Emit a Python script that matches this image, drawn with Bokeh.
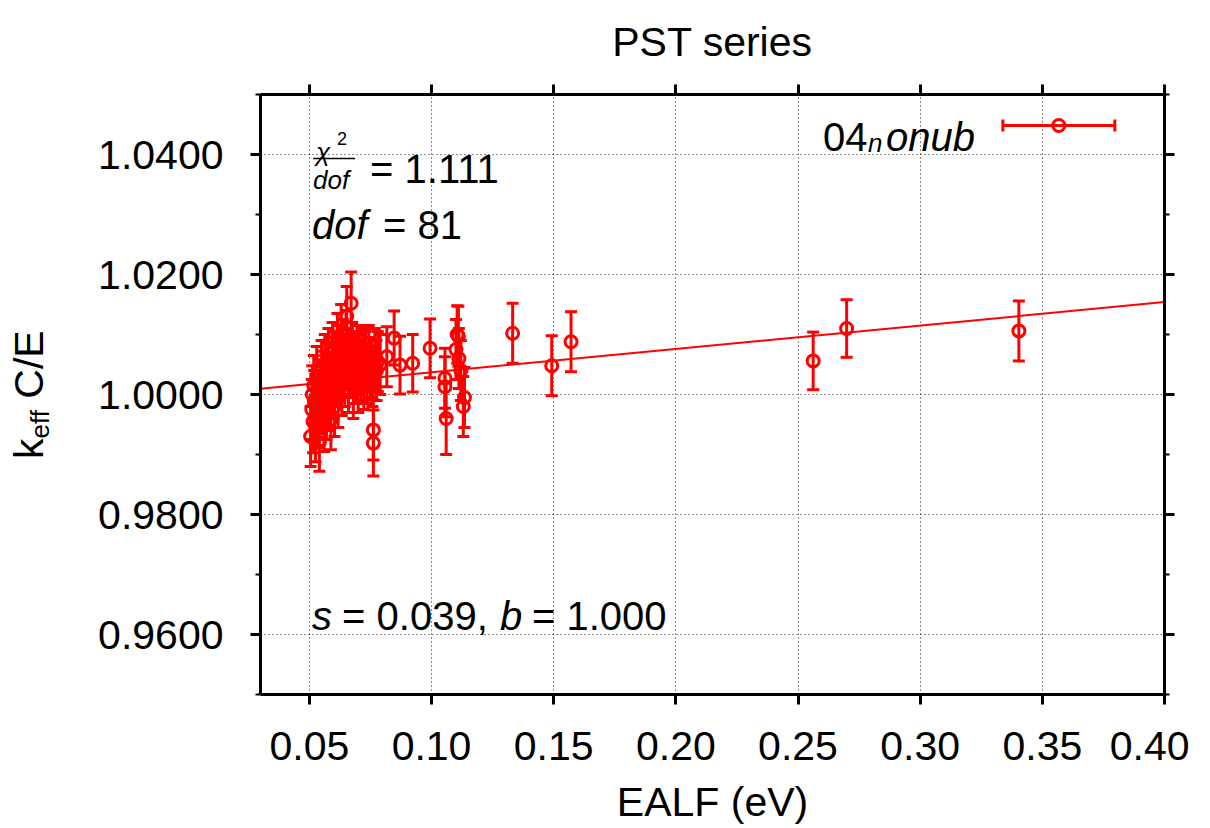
import math
from bokeh.plotting import figure
from bokeh.layouts import row
from bokeh.models import (ColumnDataSource, Whisker, TeeHead, Label, LinearAxis,
                          FixedTicker, NumeralTickFormatter, Range1d, BoxAnnotation,
                          CustomJSTickFormatter, Div)
from bokeh.embed import file_html
from bokeh.resources import INLINE

# ---------------- data ----------------
ealf = [0.0505, 0.0510, 0.0512, 0.0515, 0.0518, 0.0520, 0.0525, 0.0530, 0.0535, 0.0541,
        0.0545, 0.0550, 0.0552, 0.0558, 0.0560, 0.0563, 0.0568, 0.0570, 0.0575, 0.0578,
        0.0580, 0.0585, 0.0588, 0.0592, 0.0595, 0.0600, 0.0603, 0.0607, 0.0610, 0.0615,
        0.0618, 0.0622, 0.0625, 0.0630, 0.0633, 0.0637, 0.0640, 0.0645, 0.0650, 0.0653,
        0.0657, 0.0660, 0.0665, 0.0671, 0.0675, 0.0680, 0.0685, 0.0690, 0.0695, 0.0700,
        0.0705, 0.0712, 0.0718, 0.0723, 0.0730, 0.0737, 0.0743, 0.0750, 0.0758, 0.0762,
        0.0762, 0.0768, 0.0775, 0.0780, 0.0790, 0.0817, 0.0847, 0.0871, 0.0923, 0.0994,
        0.1055, 0.1055, 0.1060, 0.1100, 0.1105, 0.1110, 0.1112, 0.1120, 0.1135, 0.1130,
        0.1332, 0.1492, 0.1571, 0.2562, 0.2699, 0.3404]
keff = [0.9930, 0.9975, 1.0000, 0.9955, 1.0015, 0.9990, 0.9948, 1.0030, 0.9965, 0.9920,
        1.0008, 1.0040, 0.9985, 1.0022, 0.9960, 1.0050, 1.0010, 0.9975, 1.0035, 1.0060,
        0.9990, 1.0020, 0.9958, 1.0045, 1.0070, 1.0010, 0.9980, 1.0055, 1.0030, 1.0085,
        0.9995, 1.0065, 1.0040, 1.0100, 1.0015, 1.0075, 1.0050, 1.0030, 1.0090, 1.0130,
        1.0060, 1.0020, 1.0045, 1.0152, 1.0070, 1.0010, 1.0055, 1.0035, 1.0065, 1.0020,
        1.0050, 1.0040, 1.0060, 1.0025, 1.0055, 1.0035, 1.0065, 1.0045, 1.0030, 0.9941,
        0.9919, 1.0060, 1.0040, 1.0055, 1.0050, 1.0063, 1.0094, 1.0049, 1.0052, 1.0077,
        1.0027, 1.0013, 0.9960, 1.0075, 1.0100, 1.0097, 1.0060, 1.0040, 0.9995, 0.9980,
        1.0102, 1.0048, 1.0088, 1.0056, 1.0110, 1.0106]
keff_err = [0.0050, 0.0050, 0.0048, 0.0052, 0.0050, 0.0050, 0.0060, 0.0050, 0.0050, 0.0048,
            0.0050, 0.0050, 0.0050, 0.0050, 0.0055, 0.0050, 0.0050, 0.0050, 0.0050, 0.0050,
            0.0050, 0.0050, 0.0050, 0.0050, 0.0050, 0.0050, 0.0050, 0.0050, 0.0050, 0.0050,
            0.0050, 0.0050, 0.0050, 0.0050, 0.0050, 0.0050, 0.0050, 0.0050, 0.0050, 0.0050,
            0.0050, 0.0050, 0.0050, 0.0052, 0.0050, 0.0050, 0.0050, 0.0050, 0.0050, 0.0050,
            0.0050, 0.0050, 0.0050, 0.0050, 0.0050, 0.0050, 0.0050, 0.0050, 0.0050, 0.0050,
            0.0055, 0.0050, 0.0050, 0.0050, 0.0050, 0.0050, 0.0045, 0.0048, 0.0048, 0.0049,
            0.0050, 0.0050, 0.0060, 0.0050, 0.0048, 0.0050, 0.0050, 0.0050, 0.0050, 0.0050,
            0.0050, 0.0050, 0.0050, 0.0048, 0.0048, 0.0050]
fit_slope = 0.039
fit_intercept = 0.9998
x_ticks = [0.05, 0.10, 0.15, 0.20, 0.25, 0.30, 0.35, 0.40]
y_ticks = [0.96, 0.98, 1.00, 1.02, 1.04]
y_minor_ticks = [0.95, 0.97, 0.99, 1.01, 1.03, 1.05]
chi2_dof = "1.111"
dof = "81"
s_text = "0.039"
b_text = "1.000"
series_name = ("04", "n", "onub")
y_label = ("k", "eff", "C/E")

# ---------------- figure ----------------
XR = (0.03, 0.40)
YR = (0.95, 1.05)
FONT = "Liberation Sans"
RED = "#ff0000"
DIV_W = 70

p = figure(frame_width=904, frame_height=600,
           x_range=Range1d(*XR), y_range=Range1d(*YR),
           output_backend="svg", toolbar_location=None,
           min_border_left=180, min_border_top=92,
           min_border_right=25, min_border_bottom=118, title="PST series")
p.background_fill_color = "white"
p.border_fill_color = "white"
p.outline_line_color = None

p.title.text_font = FONT
p.title.text_font_size = "41px"
p.title.text_font_style = "normal"
p.title.align = "center"
p.title.vertical_align = "top"
p.title.text_color = "black"
p.title.standoff = 36

xt = FixedTicker(ticks=x_ticks, minor_ticks=[])
yt = FixedTicker(ticks=y_ticks, minor_ticks=y_minor_ticks)

bottom = p.xaxis[0]
left = p.yaxis[0]
bottom.ticker = xt
left.ticker = yt
bottom.formatter = NumeralTickFormatter(format="0.00")
left.formatter = NumeralTickFormatter(format="0.0000")
bottom.axis_label = "EALF (eV)"

blank = CustomJSTickFormatter(code="return ''")
top = LinearAxis(ticker=xt, formatter=blank)
right = LinearAxis(ticker=yt, formatter=blank)
p.add_layout(top, "above")
p.add_layout(right, "right")

for ax in [bottom, left, top, right]:
    ax.axis_line_width = 3
    ax.axis_line_color = "black"
    ax.major_tick_line_width = 3
    ax.major_tick_line_color = "black"
    ax.minor_tick_line_width = 2
    ax.minor_tick_line_color = "black"
    ax.major_tick_in = 0
    ax.major_tick_out = 10
    ax.minor_tick_in = 0
    ax.minor_tick_out = 5
    ax.major_label_text_font = FONT
    ax.major_label_text_font_size = "41px"
    ax.major_label_text_color = "black"
    ax.axis_label_text_font = FONT
    ax.axis_label_text_font_size = "41px"
    ax.axis_label_text_font_style = "normal"
    ax.axis_label_text_color = "black"

for ax in [top, right]:
    ax.major_label_standoff = 0
    ax.major_label_text_font_size = "2px"

bottom.major_label_standoff = 27
bottom.axis_label_standoff = 16
left.major_label_standoff = 27

p.xgrid.ticker = xt
p.ygrid.ticker = yt
for g in [p.xgrid, p.ygrid]:
    g.grid_line_color = "black"
    g.grid_line_width = 1
    g.grid_line_dash = "1 3"
    g.grid_line_alpha = 0.9

# ---------------- data marks ----------------
lo = [k - e for k, e in zip(keff, keff_err)]
hi = [k + e for k, e in zip(keff, keff_err)]
src = ColumnDataSource(dict(x=ealf, y=keff, lo=lo, hi=hi))

p.add_layout(Whisker(base="x", lower="lo", upper="hi", source=src, dimension="height",
                     line_color=RED, line_width=3,
                     upper_head=TeeHead(size=12, line_color=RED, line_width=3),
                     lower_head=TeeHead(size=12, line_color=RED, line_width=3)))
p.scatter("x", "y", source=src, marker="circle", size=12, fill_color=None,
          line_color=RED, line_width=3)

fx = [XR[0], XR[1]]
fy = [fit_intercept + fit_slope * v for v in fx]
p.line(fx, fy, line_color=RED, line_width=2)

# ---------------- helpers for text placement (reference pixel -> data) ----------------
FL, FW, FT, FH = 260.4, 904.3, 93.0, 600.0


def X(px):
    return XR[0] + (px - FL) / FW * (XR[1] - XR[0])


def Y(py):
    return YR[1] - (py - FT) / FH * (YR[1] - YR[0])


def lab(px, py, text, size=40, style="normal"):
    p.add_layout(Label(x=X(px), y=Y(py), text=text, text_font=FONT,
                       text_font_size=f"{size}px", text_font_style=style,
                       text_color="black", text_align="left",
                       text_baseline="alphabetic"))


# chi^2/dof
lab(316, 150, "\u03c7", size=26, style="italic")
lab(337, 137, "2", size=18)
p.add_layout(BoxAnnotation(left=X(313), right=X(355), top=Y(156.3), bottom=Y(157.7),
                           fill_color="black", fill_alpha=1.0, line_color=None))
lab(313, 178, "dof", size=26, style="italic")
lab(370, 167, "= " + chi2_dof)

# dof = 81
lab(312, 223, "dof", style="italic")
lab(383, 223, "= " + dof)

# s, b
lab(312, 614, "s", style="italic")
lab(342, 614, "= " + s_text + ",")
lab(500, 614, "b", style="italic")
lab(532, 614, "= " + b_text)

# legend
lab(823, 135, series_name[0])
lab(868, 141, series_name[1], size=26, style="italic")
lab(886, 135, series_name[2], style="italic")
lsrc = ColumnDataSource(dict(b=[Y(124)], lo=[X(1003)], hi=[X(1115)], x=[X(1059)]))
p.add_layout(Whisker(base="b", lower="lo", upper="hi", source=lsrc, dimension="width",
                     line_color=RED, line_width=3,
                     upper_head=TeeHead(size=12, line_color=RED, line_width=3),
                     lower_head=TeeHead(size=12, line_color=RED, line_width=3)))
p.scatter("x", "b", source=lsrc, marker="circle", size=12, fill_color=None,
          line_color=RED, line_width=3)

# y axis label: k_eff C/E, rotated HTML text in a narrow column left of the figure
ylab_html = (
    '<div style="position:absolute; left:4px; top:454px; transform:rotate(-90deg); '
    "transform-origin:0 0; white-space:nowrap; font-family:'Liberation Sans'; "
    'font-size:41px; line-height:1; color:black;">'
    f'{y_label[0]}<span style="font-size:26px; position:relative; top:6px;">{y_label[1]}</span>'
    f'&nbsp;{y_label[2]}</div>'
)
ydiv = Div(text=ylab_html, width=DIV_W, height=700,
           styles={"position": "relative", "overflow": "visible"})

layout = row(ydiv, p, spacing=0)
open("out.html", "w").write(file_html(layout, INLINE))
